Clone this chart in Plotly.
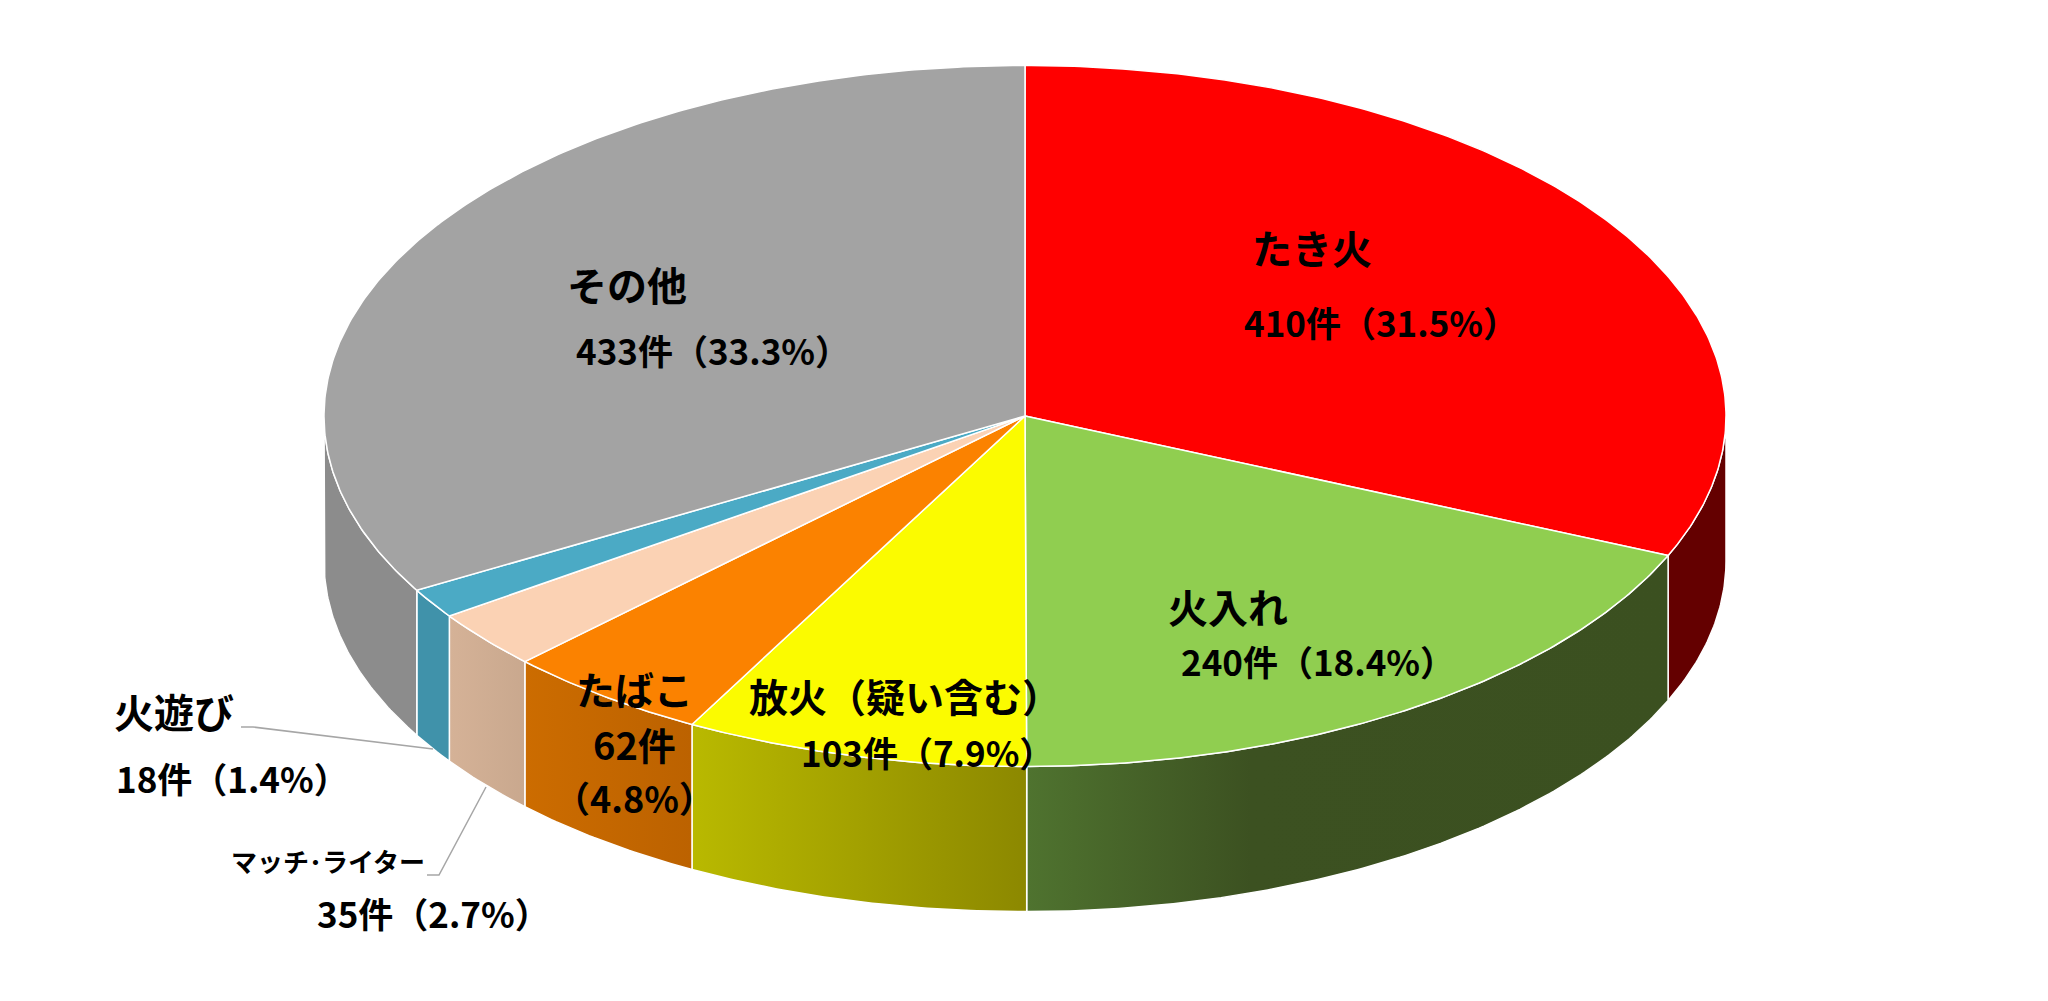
import numpy as np
import plotly.graph_objects as go

categories = ['たき火', '火入れ', '放火（疑い含む）', 'たばこ', 'マッチ･ライター', '火遊び', 'その他']
counts = [410, 240, 103, 62, 35, 18, 433]
percents = [31.5, 18.4, 7.9, 4.8, 2.7, 1.4, 33.3]

top_colors = ['#ff0000', '#90ce50', '#fbfb00', '#fb8200', '#fbd2b4', '#4baac5', '#a3a3a3']
side_colors = [
    [[0, '#640000'], [1, '#640000']],
    [[0, '#4f732f'], [0.35, '#3c5121'], [1, '#3b5020']],
    [[0, '#b9b900'], [1, '#8c8800']],
    [[0, '#cc6c00'], [1, '#bc6200']],
    [[0, '#d5b297'], [1, '#c9a88e']],
    [[0, '#4092aa'], [1, '#4092aa']],
    [[0, '#8c8c8c'], [1, '#8c8c8c']],
]

W, H = 2048, 1001
CX, CY = 1025, 416   # pie centre in pixels
RX = 701             # one data unit on screen
TILT = 0.5
DEPTH = 0.207


def rim(a, b):
    t = np.radians(np.linspace(a, b, max(int(b - a) * 2, 2) + 1))
    return np.sin(t), np.cos(t) * TILT


fig = go.Figure()

edges = np.cumsum([0] + counts) / sum(counts) * 360

# side walls first, only the front half of the disc shows
for i in range(len(counts)):
    a, b = max(edges[i], 90), min(edges[i + 1], 270)
    if a >= b:
        continue
    x, y = rim(a, b)
    fig.add_trace(go.Scatter(
        x=np.r_[x, x[::-1], x[0]],
        y=np.r_[y, y[::-1] - DEPTH, y[0]],
        mode='lines',
        fill='toself',
        fillgradient=dict(type='horizontal', colorscale=side_colors[i]),
        line=dict(color='white', width=1.5),
        hoverinfo='skip',
    ))

# top of the pie
for i in range(len(counts)):
    x, y = rim(edges[i], edges[i + 1])
    fig.add_trace(go.Scatter(
        x=np.r_[0, x, 0],
        y=np.r_[0, y, 0],
        mode='lines',
        fill='toself',
        fillcolor=top_colors[i],
        line=dict(color='white', width=1.5),
        name=categories[i],
        hoverinfo='name',
    ))


def value_text(i):
    return f'{counts[i]}件（{percents[i]}%）'


# text, x and y are pixel centres
labels = [
    (categories[0], 1312, 247, 40),
    (value_text(0), 1381, 321, 35),
    (categories[1], 1228, 606, 40),
    (value_text(1), 1318, 660, 35),
    (categories[2], 905, 695, 39),
    (value_text(2), 927, 751, 35),
    (categories[3], 634, 688, 39),
    (f'{counts[3]}件', 634, 743, 38),
    (f'（{percents[3]}%）', 634, 797, 36),
    (categories[4], 328, 860, 26),
    (value_text(4), 433, 912, 35),
    (categories[5], 174, 711, 40),
    (value_text(5), 232, 777, 35),
    (categories[6], 627, 284, 40),
    (value_text(6), 713, 349, 35),
]
for text, px, py, size in labels:
    fig.add_annotation(
        x=px / W, y=1 - py / H, xref='paper', yref='paper',
        text=text, showarrow=False, xanchor='center', yanchor='middle',
        font=dict(family='Noto Sans CJK JP', size=size, color='black', weight='bold'),
    )

# leader lines
for pts in [[(241, 727), (253, 727), (433, 749)], [(427, 875), (439, 875), (486, 787)]]:
    path = 'M ' + ' L '.join(f'{px / W} {1 - py / H}' for px, py in pts)
    fig.add_shape(type='path', path=path, xref='paper', yref='paper',
                  line=dict(color='#a6a6a6', width=1.5))

fig.update_layout(
    width=W,
    height=H,
    margin=dict(l=0, r=0, t=0, b=0),
    paper_bgcolor='white',
    plot_bgcolor='white',
    showlegend=False,
    xaxis=dict(visible=False, range=[-CX / RX, (W - CX) / RX]),
    yaxis=dict(visible=False, range=[-(H - CY) / RX, CY / RX]),
)

fig.write_html('out.html', config=dict(displayModeBar=False),
               post_script="document.body.style.margin='0';document.body.style.overflow='hidden';")
